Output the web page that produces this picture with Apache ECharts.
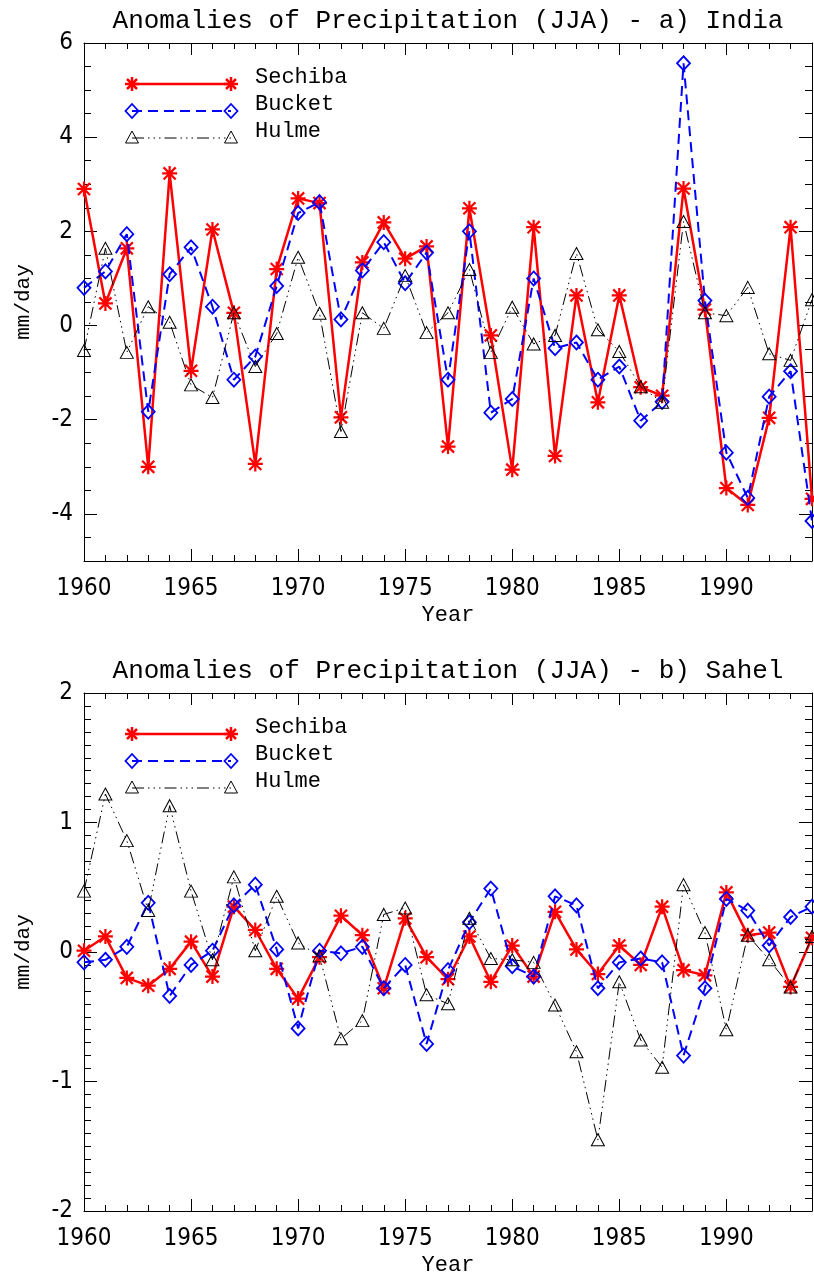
<!DOCTYPE html>
<html>
<head>
<meta charset="utf-8">
<title>Anomalies of Precipitation (JJA)</title>
<script src="https://cdn.jsdelivr.net/npm/echarts@6.0.0/dist/echarts.min.js"></script>
<style>
  html, body { margin: 0; padding: 0; background: #fff; }
  #chart { width: 814px; height: 1278px; }
</style>
</head>
<body>
<div id="chart"></div>
<script>
// Two stacked panels: India (a) and Sahel (b), JJA precipitation anomalies in mm/day.

const years = [1960, 1961, 1962, 1963, 1964, 1965, 1966, 1967, 1968, 1969,
  1970, 1971, 1972, 1973, 1974, 1975, 1976, 1977, 1978, 1979,
  1980, 1981, 1982, 1983, 1984, 1985, 1986, 1987, 1988, 1989,
  1990, 1991, 1992, 1993, 1994];

const seriesNames = ['Sechiba', 'Bucket', 'Hulme'];
const panelTitles = ['Anomalies of Precipitation (JJA) - a) India', 'Anomalies of Precipitation (JJA) - b) Sahel'];

const indiaSechiba = [2.9, 0.47, 1.64, -3.0, 3.23, -0.96, 2.04, 0.27, -2.94, 1.2,
  2.7, 2.6, -1.95, 1.34, 2.19, 1.42, 1.68, -2.57, 2.49, -0.21,
  -3.06, 2.09, -2.77, 0.64, -1.63, 0.64, -1.31, -1.49, 2.91, 0.34,
  -3.45, -3.81, -1.96, 2.09, -3.68];
const indiaBucket = [0.8, 1.15, 1.94, -1.83, 1.09, 1.66, 0.4, -1.15, -0.66, 0.84,
  2.39, 2.62, 0.13, 1.17, 1.77, 0.9, 1.55, -1.15, 2.0, -1.85,
  -1.56, 1.0, -0.48, -0.36, -1.15, -0.87, -2.02, -1.62, 5.57, 0.53,
  -2.7, -3.66, -1.51, -0.97, -4.15];
const indiaHulme = [-0.53, 1.64, -0.57, 0.4, 0.07, -1.26, -1.53, 0.27, -0.87, -0.17,
  1.45, 0.26, -2.25, 0.27, -0.06, 1.06, -0.15, 0.27, 1.19, -0.57,
  0.39, -0.39, -0.21, 1.53, -0.09, -0.55, -1.3, -1.63, 2.21, 0.27,
  0.21, 0.81, -0.6, -0.74, 0.55];

const sahelSechiba = [0.01, 0.12, -0.2, -0.26, -0.13, 0.08, -0.19, 0.35, 0.17, -0.13,
  -0.36, -0.04, 0.28, 0.13, -0.28, 0.26, -0.04, -0.21, 0.12, -0.23,
  0.05, -0.19, 0.31, 0.02, -0.17, 0.05, -0.1, 0.35, -0.14, -0.18,
  0.46, 0.13, 0.15, -0.27, 0.11];
const sahelBucket = [-0.08, -0.06, 0.04, 0.38, -0.34, -0.1, 0.01, 0.36, 0.52, 0.02,
  -0.59, 0.01, -0.01, 0.04, -0.28, -0.1, -0.71, -0.14, 0.23, 0.49,
  -0.11, -0.19, 0.43, 0.36, -0.28, -0.08, -0.05, -0.08, -0.8, -0.28,
  0.41, 0.32, 0.05, 0.27, 0.35];
const sahelHulme = [0.47, 1.22, 0.86, 0.32, 1.13, 0.47, -0.06, 0.58, 0.01, 0.43,
  0.07, -0.03, -0.67, -0.53, 0.29, 0.34, -0.33, -0.4, 0.26, -0.05,
  -0.06, -0.08, -0.41, -0.77, -1.45, -0.23, -0.68, -0.89, 0.52, 0.15,
  -0.6, 0.13, -0.06, -0.27, 0.12];

// y ranges per panel
const indiaRange = { min: -5, max: 6, split: 5, minor: 0.5 };
const sahelRange = { min: -2, max: 2, split: 4, minor: 0.1 };

const TICK_FONT = '"Liberation Sans Narrow", "DejaVu Sans Condensed", "Liberation Sans", sans-serif';
const TEXT_FONT = '"Liberation Mono", "DejaVu Sans Mono", monospace';
const RED = '#ff0000', BLUE = '#0000ff', BLACK = '#000000';

const PANELS = [{ top: 43 }, { top: 693 }];
const PLOT_H = 518, PLOT_L = 84, PLOT_R = 2;

// 8-armed asterisk as a filled path
const STAR = 'path://M0,8.5L20,8.5L20,11.5L0,11.5Z M8.5,0L11.5,0L11.5,20L8.5,20Z ' +
  'M0.9,3L3,0.9L19.1,17L17,19.1Z M17,0.9L19.1,3L3,19.1L0.9,17Z';
const HULME_DASH = [12, 4, 1.5, 4, 1.5, 4, 1.5, 4];

const chart = echarts.init(document.getElementById('chart'), null, { renderer: 'canvas' });

function pairs(vals) { return vals.map((v, i) => [years[i], v]); }

const frameLine = { show: true, onZero: false, lineStyle: { color: BLACK, width: 1 } };
const noLine = { show: false, onZero: false };
const tick = (len) => ({ show: true, inside: true, length: len, lineStyle: { color: BLACK, width: 1 } });

function xAxes(g) {
  const base = { type: 'value', gridIndex: g, min: 1960, max: 1994, splitLine: { show: false } };
  return [
    { ...base, position: 'bottom', interval: 5, axisLine: frameLine, axisTick: tick(12),
      axisLabel: { color: BLACK, fontFamily: TICK_FONT, fontSize: 24, margin: 16,
        showMaxLabel: false, formatter: (v) => (v % 5 === 0 && v < 1994 ? String(v) : '') },
      name: 'Year', nameLocation: 'middle', nameGap: 43,
      nameTextStyle: { color: BLACK, fontFamily: TEXT_FONT, fontSize: 22 } },
    { ...base, position: 'bottom', interval: 1, axisLine: noLine, axisTick: tick(6), axisLabel: { show: false } },
    { ...base, position: 'top', interval: 5, axisLine: frameLine, axisTick: tick(12), axisLabel: { show: false } },
    { ...base, position: 'top', interval: 1, axisLine: noLine, axisTick: tick(6), axisLabel: { show: false } },
  ];
}

function yAxes(g, r) {
  const base = { type: 'value', gridIndex: g, min: r.min, max: r.max, splitLine: { show: false } };
  return [
    { ...base, splitNumber: r.split, position: 'left', axisLine: frameLine, axisTick: tick(13),
      axisLabel: { color: BLACK, fontFamily: TICK_FONT, fontSize: 24, margin: 11,
        formatter: (v) => (v === r.min && r.min % 2 !== 0 ? '' : String(v)) },
      name: 'mm/day', nameLocation: 'middle', nameGap: 50,
      nameTextStyle: { color: BLACK, fontFamily: TEXT_FONT, fontSize: 21 } },
    { ...base, position: 'left', interval: r.minor, axisLine: noLine, axisTick: tick(7), axisLabel: { show: false } },
    { ...base, splitNumber: r.split, position: 'right', axisLine: frameLine, axisTick: tick(13), axisLabel: { show: false } },
    { ...base, position: 'right', interval: r.minor, axisLine: noLine, axisTick: tick(7), axisLabel: { show: false } },
  ];
}

function lines(g, sech, buck, hulm) {
  const idx = { xAxisIndex: g * 4, yAxisIndex: g * 4 };
  return [
    { name: seriesNames[0], type: 'line', ...idx, data: pairs(sech), z: 3,
      symbol: STAR, symbolSize: 15, showAllSymbol: true,
      lineStyle: { color: RED, width: 2.5 }, itemStyle: { color: RED } },
    { name: seriesNames[1], type: 'line', ...idx, data: pairs(buck), z: 4,
      symbol: 'diamond', symbolSize: [13, 14], showAllSymbol: true,
      lineStyle: { color: BLUE, width: 2, type: [10, 6] },
      itemStyle: { color: 'rgba(0,0,0,0)', borderColor: BLUE, borderWidth: 1.8 } },
    { name: seriesNames[2], type: 'line', ...idx, data: pairs(hulm), z: 5,
      symbol: 'triangle', symbolSize: [13, 12], showAllSymbol: true,
      lineStyle: { color: BLACK, width: 1, type: HULME_DASH },
      itemStyle: { color: 'rgba(0,0,0,0)', borderColor: BLACK, borderWidth: 1 } },
  ];
}

// legend glyphs, drawn by hand so markers sit at both ends of the sample line
function star(cx, cy) {
  const r = 7, d = 5;
  const segs = [[-r, 0, r, 0], [0, -r, 0, r], [-d, -d, d, d], [-d, d, d, -d]];
  return segs.map(s => ({ type: 'line', shape: { x1: cx + s[0], y1: cy + s[1], x2: cx + s[2], y2: cy + s[3] },
    style: { stroke: RED, lineWidth: 2.5 } }));
}
function diamond(cx, cy) {
  return [{ type: 'polygon', shape: { points: [[cx, cy - 7], [cx + 6.5, cy], [cx, cy + 7], [cx - 6.5, cy]] },
    style: { fill: 'none', stroke: BLUE, lineWidth: 1.8 } }];
}
function triangle(cx, cy) {
  return [{ type: 'polygon', shape: { points: [[cx, cy - 7], [cx + 6.5, cy + 5], [cx - 6.5, cy + 5]] },
    style: { fill: 'none', stroke: BLACK, lineWidth: 1 } }];
}

function legend(top) {
  const x1 = 132, x2 = 231;
  const rows = [
    { dy: 41, stroke: RED, width: 2.5, dash: null, mark: star },
    { dy: 68, stroke: BLUE, width: 2, dash: [10, 6], mark: diamond },
    { dy: 95, stroke: BLACK, width: 1, dash: HULME_DASH, mark: triangle },
  ];
  const out = [];
  rows.forEach((r, i) => {
    const y = top + r.dy;
    out.push({ type: 'line', shape: { x1, y1: y, x2, y2: y },
      style: { stroke: r.stroke, lineWidth: r.width, lineDash: r.dash } });
    out.push(...r.mark(x1, y), ...r.mark(x2, y));
    out.push({ type: 'text', x: 255, y: y - 7,
      style: { text: seriesNames[i], font: '22px ' + TEXT_FONT, fill: BLACK, verticalAlign: 'middle' } });
  });
  return out;
}

function titles() {
  const cx = PLOT_L + (814 - PLOT_L - PLOT_R) / 2;
  return PANELS.map((p, i) => ({ type: 'text', x: cx, y: p.top - 22,
    style: { text: panelTitles[i], font: '26px ' + TEXT_FONT, fill: BLACK, align: 'center', verticalAlign: 'middle' } }));
}

const option = {
  animation: false,
  backgroundColor: '#fff',
  grid: PANELS.map(p => ({ left: PLOT_L, right: PLOT_R, top: p.top, height: PLOT_H, containLabel: false })),
  xAxis: [...xAxes(0), ...xAxes(1)],
  yAxis: [...yAxes(0, indiaRange), ...yAxes(1, sahelRange)],
  series: [
    ...lines(0, indiaSechiba, indiaBucket, indiaHulme),
    ...lines(1, sahelSechiba, sahelBucket, sahelHulme),
  ],
  graphic: [...titles(), ...legend(PANELS[0].top), ...legend(PANELS[1].top)],
};

chart.setOption(option);
</script>
</body>
</html>
